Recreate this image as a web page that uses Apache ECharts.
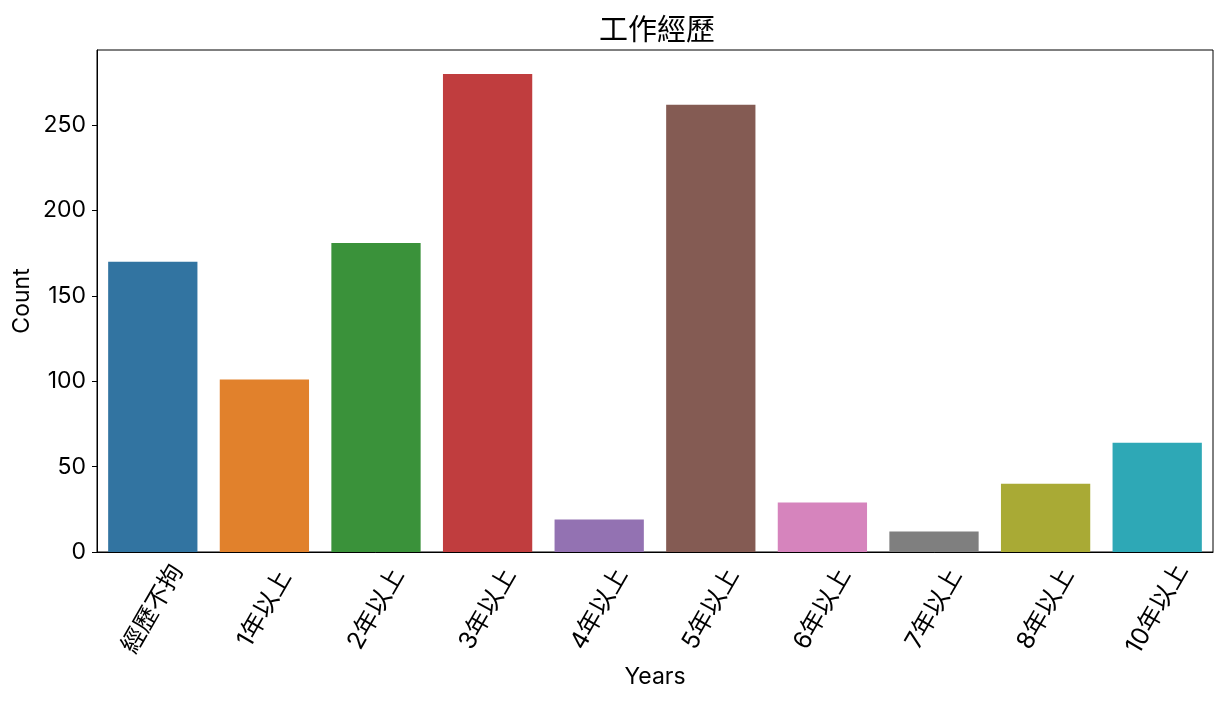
<!DOCTYPE html>
<html>
<head>
<meta charset="utf-8">
<script src="https://cdn.jsdelivr.net/npm/echarts@6/dist/echarts.min.js"></script>
<style>
  html, body { margin: 0; padding: 0; background: #fff; }
  #main { width: 1224px; height: 711px; }
</style>
</head>
<body>
<div id="main"></div>
<script>
var categories = ["經歷不拘", "1年以上", "2年以上", "3年以上", "4年以上", "5年以上", "6年以上", "7年以上", "8年以上", "10年以上"];
var counts = [170, 101, 181, 280, 19, 262, 29, 12, 40, 64];
var barColors = ["#3274a1", "#e1812c", "#3a923a", "#c03d3e", "#9372b2", "#845b53", "#d684bd", "#7f7f7f", "#a9aa35", "#2ea8b6"];
var yTicks = [0, 50, 100, 150, 200, 250];

var font = "Inter, 'Noto Sans CJK TC', sans-serif";
var myChart = echarts.init(document.getElementById("main"));

var option = {
  backgroundColor: "#fff",
  animation: false,
  title: {
    text: "工作經歷",
    left: 652,
    textAlign: "center",
    top: 12,
    textStyle: { fontFamily: font, fontSize: 29, fontWeight: "normal", color: "#000" }
  },
  grid: {
    left: 97, right: 11, top: 50, bottom: 159,
    show: true, borderColor: "#000", borderWidth: 1, backgroundColor: "transparent"
  },
  xAxis: {
    type: "category",
    data: categories,
    name: "Years",
    nameLocation: "middle",
    nameGap: 113,
    nameTextStyle: { fontFamily: font, fontSize: 23, color: "#000" },
    axisLine: { lineStyle: { color: "#000", width: 1 } },
    axisTick: { alignWithLabel: true, length: 5, lineStyle: { color: "#000" } },
    // center the rotated label box under its tick, like matplotlib does
    axisLabel: {
      rotate: 60, margin: 57, interval: 0, align: "center", verticalAlign: "middle",
      fontFamily: font, fontSize: 24.5, color: "#000"
    }
  },
  yAxis: {
    type: "value",
    min: 0,
    max: 294,
    interval: 50,
    name: "Count",
    nameLocation: "middle",
    nameGap: 63,
    nameMoveOverlap: false,
    nameTextStyle: { fontFamily: font, fontSize: 23, color: "#000" },
    splitLine: { show: false },
    axisLine: { show: true, lineStyle: { color: "#000", width: 1 } },
    axisTick: { show: true, length: 5, lineStyle: { color: "#000" }, customValues: yTicks },
    axisLabel: { margin: 11, fontFamily: font, fontSize: 23, color: "#000", customValues: yTicks }
  },
  series: [
    {
      type: "bar",
      barCategoryGap: "20%",
      data: counts.map(function (v, i) {
        return { value: v, itemStyle: { color: barColors[i] } };
      })
    }
  ]
};
myChart.setOption(option);
</script>
</body>
</html>
